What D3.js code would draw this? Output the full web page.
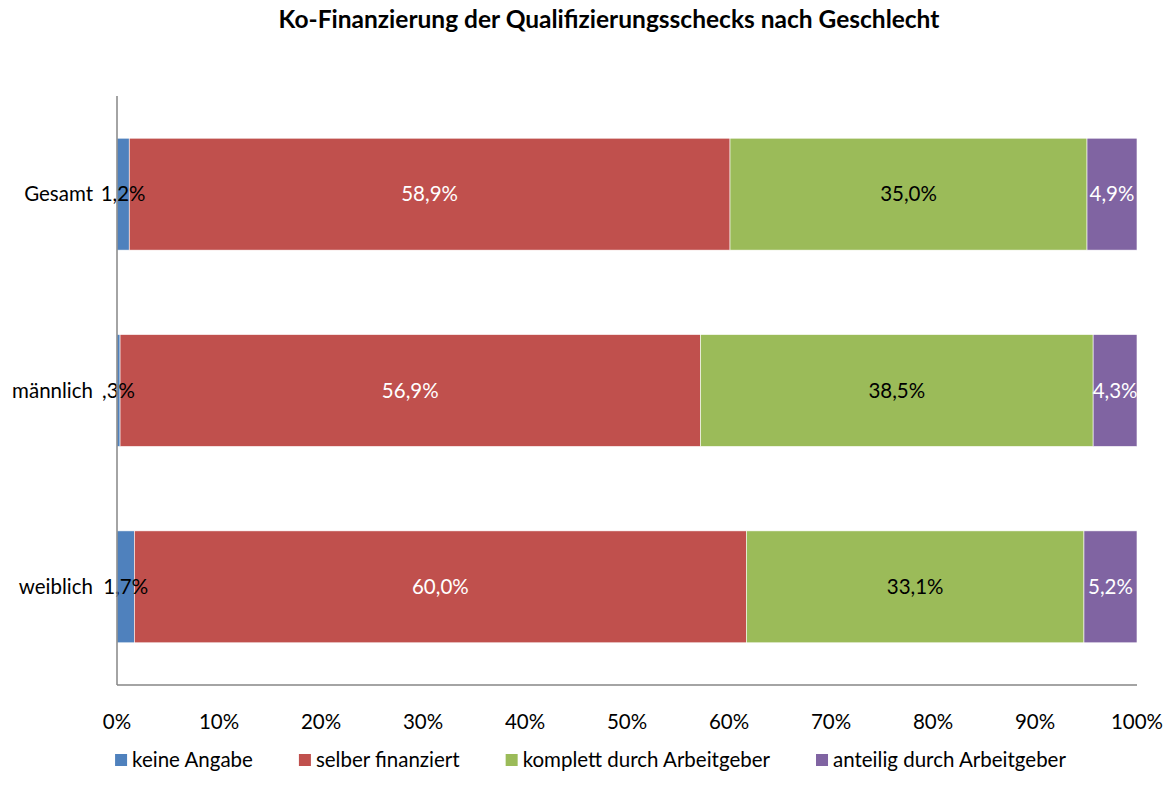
<!DOCTYPE html>
<html>
<head>
<meta charset="utf-8">
<script src="https://cdn.jsdelivr.net/npm/d3@7"></script>
<style>
  html, body { margin: 0; padding: 0; background: #fff; }
  svg { display: block; font-family: "Lato", "Noto Sans", sans-serif; }
</style>
</head>
<body>
<div id="chart"></div>
<script>
// Daten
const categories = ["Gesamt", "männlich", "weiblich"];
const seriesNames = ["keine Angabe", "selber finanziert", "komplett durch Arbeitgeber", "anteilig durch Arbeitgeber"];
const keineAngabe = [1.2, 0.3, 1.7];
const selberFinanziert = [58.9, 56.9, 60.0];
const komplettAG = [35.0, 38.5, 33.1];
const anteiligAG = [4.9, 4.3, 5.2];
const valueLabels = [
  ["1,2%", "58,9%", "35,0%", "4,9%"],
  [",3%", "56,9%", "38,5%", "4,3%"],
  ["1,7%", "60,0%", "33,1%", "5,2%"]
];
const ticks = [0, 10, 20, 30, 40, 50, 60, 70, 80, 90, 100];

// Stil
const COLORS = ["#4f81bd", "#c0504d", "#9bbb59", "#8064a2"];
const LABEL_COLORS = ["#000", "#fff", "#000", "#fff"];
const FS = 20.5;
const W = 1168, H = 798;
const M = { left: 117, right: 1137, top: 96, bottom: 685 };

const svg = d3.select("#chart").append("svg")
  .attr("width", W).attr("height", H);

svg.append("text")
  .attr("x", 609).attr("y", 28)
  .attr("text-anchor", "middle")
  .attr("font-size", 24.5).attr("font-weight", "bold")
  .attr("fill", "#000")
  .text("Ko-Finanzierung der Qualifizierungsschecks nach Geschlecht");

const x = d3.scaleLinear().domain([0, 100]).range([M.left, M.right]);
const y = d3.scaleBand().domain(categories).range([M.top, M.bottom]).paddingInner(0.43).paddingOuter(0.215);

const rows = categories.map((c, i) => ({
  cat: c,
  "keine Angabe": keineAngabe[i],
  "selber finanziert": selberFinanziert[i],
  "komplett durch Arbeitgeber": komplettAG[i],
  "anteilig durch Arbeitgeber": anteiligAG[i]
}));
const stacked = d3.stack().keys(seriesNames)(rows);

const layer = svg.append("g").selectAll("g")
  .data(stacked).enter().append("g")
  .attr("fill", (d, i) => COLORS[i]);

layer.selectAll("rect")
  .data(d => d)
  .enter().append("rect")
  .attr("x", d => x(d[0]))
  .attr("y", d => y(d.data.cat))
  .attr("width", d => x(d[1]) - x(d[0]))
  .attr("height", y.bandwidth())
  .attr("stroke", "#fff")
  .attr("stroke-width", 0.6);

// Beschriftung der Segmente
stacked.forEach((s, si) => {
  svg.append("g").selectAll("text")
    .data(s).enter().append("text")
    .attr("x", d => (x(d[0]) + x(d[1])) / 2)
    .attr("y", d => y(d.data.cat) + y.bandwidth() / 2)
    .attr("dy", "0.35em")
    .attr("text-anchor", "middle")
    .attr("font-size", FS)
    .attr("fill", LABEL_COLORS[si])
    .text((d, i) => valueLabels[i][si]);
});

// Achsen
svg.append("line")
  .attr("x1", M.left).attr("x2", M.left)
  .attr("y1", M.top).attr("y2", M.bottom)
  .attr("stroke", "#868686").attr("stroke-width", 1.5);
svg.append("line")
  .attr("x1", M.left).attr("x2", M.right)
  .attr("y1", M.bottom).attr("y2", M.bottom)
  .attr("stroke", "#868686").attr("stroke-width", 1.5);

svg.append("g").selectAll("text")
  .data(ticks).enter().append("text")
  .attr("x", d => x(d))
  .attr("y", 722).attr("dy", "0.35em")
  .attr("text-anchor", "middle")
  .attr("font-size", FS).attr("fill", "#000")
  .text(d => d + "%");

svg.append("g").selectAll("text")
  .data(categories).enter().append("text")
  .attr("x", 93)
  .attr("y", d => y(d) + y.bandwidth() / 2)
  .attr("dy", "0.35em")
  .attr("text-anchor", "end")
  .attr("font-size", FS).attr("fill", "#000")
  .text(d => d);

// Legende
const leg = svg.append("g");
const GAP = 46;
let lx = 0;
seriesNames.forEach((n, i) => {
  const it = leg.append("g").attr("transform", `translate(${lx},0)`);
  it.append("rect").attr("x", 0).attr("y", -6).attr("width", 12).attr("height", 12).attr("fill", COLORS[i]);
  const t = it.append("text").attr("x", 17).attr("y", 0).attr("dy", "0.35em")
    .attr("font-size", FS).attr("fill", "#000").text(n);
  lx += 17 + t.node().getComputedTextLength() + GAP;
});
const legW = lx - GAP;
leg.attr("transform", `translate(${(111 + 1070) / 2 - legW / 2},760)`);
</script>
</body>
</html>
